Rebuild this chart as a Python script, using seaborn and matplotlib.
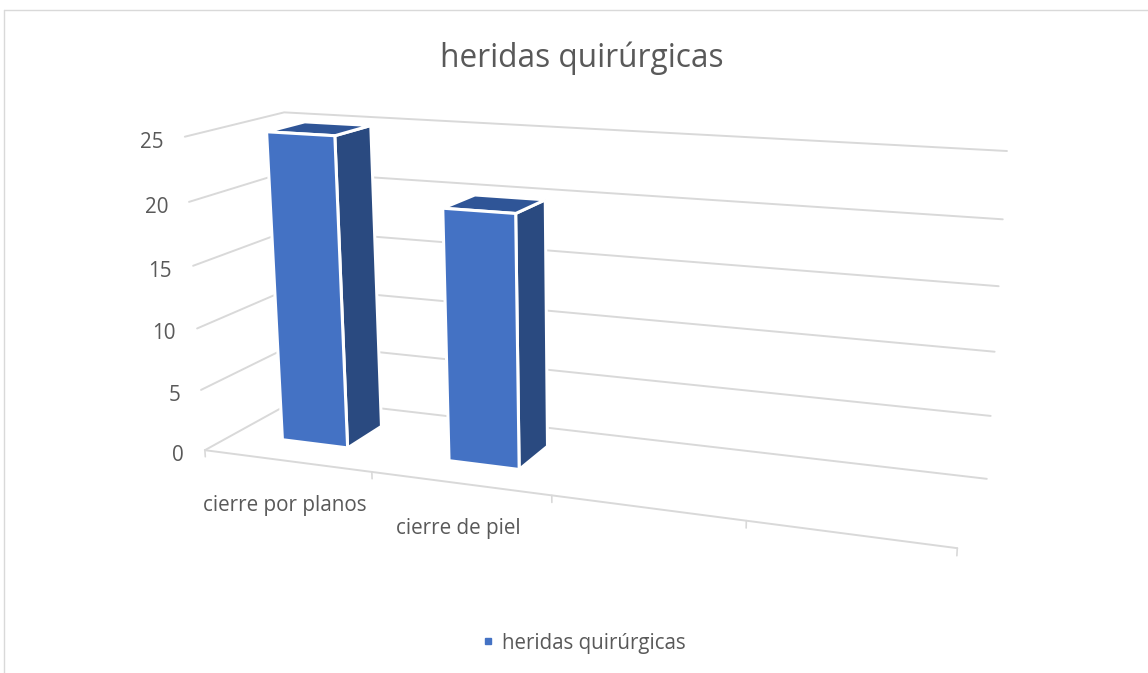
import numpy as np
import pandas as pd
import matplotlib
matplotlib.use("Agg")
import matplotlib.pyplot as plt
import seaborn as sns
from matplotlib.patches import Polygon
from matplotlib.lines import Line2D
from matplotlib.transforms import Affine2D, Transform

# ---- data ----
categories = ["cierre por planos", "cierre de piel"]
values = [25, 20]
y_ticks = [0, 5, 10, 15, 20, 25]
n_slots = 4
series_name = "heridas quirúrgicas"
title_text = "heridas quirúrgicas"

sns.set_theme(style="white")
plt.rcParams["font.family"] = ["Open Sans", "DejaVu Sans"]
TXT = "#595959"; GRID = "#D9D9D9"
FRONT = "#4472C4"; SIDE = "#2A4A80"; TOP = "#2F5597"

# ---- camera: 3D box (slot, value, depth) -> screen pixels, calibrated on the box corners ----
ymax = max(y_ticks)
box = [(0,0,0),(n_slots,0,0),(0,ymax,0),(0,ymax,1),(n_slots,ymax,1),(n_slots,0,1),(0,0,1)]
scr = [(205,451),(957,548),(185,136),(284,113),(1007,151),(987,479),(298,398)]
A = []; b = []
for (X,Y,Z),(u,v) in zip(box,scr):
    A.append([X,Y,Z,1,0,0,0,0,-u*X,-u*Y,-u*Z]); b.append(u)
    A.append([0,0,0,0,X,Y,Z,1,-v*X,-v*Y,-v*Z]); b.append(v)
P = np.append(np.linalg.lstsq(np.array(A,float),np.array(b,float),rcond=None)[0],1).reshape(3,4)

def project(X,Y,Z):
    h = P @ np.array([X,Y,Z,1.0])
    return h[0]/h[2], h[1]/h[2]

class FrontPlane(Transform):
    """Maps seaborn bar coordinates (x, value) on a plane of constant depth to pixels."""
    input_dims = output_dims = 2
    def __init__(self, z):
        super().__init__(); self.z = z
    def transform_non_affine(self, xy):
        xy = np.atleast_2d(xy)
        return np.array([project(x+0.5, y, self.z) for x,y in xy])

W, H = 1148, 673
fig = plt.figure(figsize=(W/100, H/100), dpi=100, facecolor="white")
ax = fig.add_axes([0,0,1,1])
df = pd.DataFrame({"cat":categories,"val":values})
BAR_W = 0.4
sns.barplot(data=df, x="cat", y="val", ax=ax, color=FRONT, saturation=1, width=BAR_W, zorder=5, legend=False)
ax.set_axis_off()
px = Affine2D().scale(1,-1).translate(0,H)
fig_px = px

def seg(p, q, **kw):
    ax.add_line(Line2D([p[0],q[0]],[p[1],q[1]],transform=fig_px,clip_on=False,**kw))

# chart frame
seg((3.5,9.5),(W,9.5),color=GRID,lw=1,zorder=1)
seg((3.5,9.5),(3.5,H),color=GRID,lw=1,zorder=1)

# walls and floor
for v in y_ticks:
    a=project(0,v,0); c=project(0,v,1); d=project(n_slots,v,1)
    ax.add_line(Line2D([a[0],c[0],d[0]],[a[1],c[1],d[1]],transform=fig_px,color=GRID,lw=1.4,clip_on=False,zorder=1))
    ax.text(a[0]-21,a[1]+5.5,str(v),transform=fig_px,ha="right",va="center",fontsize=14.9,color=TXT)
seg(project(0,0,0),project(n_slots,0,0),color=GRID,lw=1.4,zorder=1)
for i in range(n_slots+1):
    seg(project(i,0,0),project(i,-0.55,0),color=GRID,lw=1.2,zorder=1)
for i,c in enumerate(categories):
    u,v = project(i+0.5,0,0)
    ax.text(u-2,v+45,c,transform=fig_px,ha="center",va="center",fontsize=14.9,color=TXT)

# bars
Z0, Z1 = 0.3, 0.7
front_tf = FrontPlane(Z0) + fig_px
for k,patch in enumerate(ax.patches):
    x0=patch.get_x()+0.5; x1=x0+patch.get_width(); h=patch.get_height()
    patch.set_transform(front_tf); patch.set_clip_on(False)
    patch.set_edgecolor("white"); patch.set_linewidth(2.2); patch.set_zorder(6+3*k)
    top=[project(x0,h,Z0),project(x1,h,Z0),project(x1,h,Z1),project(x0,h,Z1)]
    side=[project(x1,0,Z0),project(x1,h,Z0),project(x1,h,Z1),project(x1,0,Z1)]
    ax.add_patch(Polygon(side,closed=True,transform=fig_px,facecolor=SIDE,edgecolor="white",lw=2.2,clip_on=False,zorder=4+3*k))
    ax.add_patch(Polygon(top,closed=True,transform=fig_px,facecolor=TOP,edgecolor="white",lw=2.2,clip_on=False,zorder=5+3*k))

# title and legend
ax.text(581.5,58,title_text,transform=fig_px,ha="center",va="center",fontsize=22.8,color=TXT)
ax.legend(handles=[Line2D([],[],ls="none",marker="s",ms=4.5,color=FRONT,label=series_name)],
          loc="center",bbox_to_anchor=(581.5/W,1-643/H),bbox_transform=fig.transFigure,frameon=False,
          fontsize=14.8,labelcolor=TXT,handletextpad=0.15,handlelength=1.0)
fig.savefig("out.png",dpi=100,facecolor="white")
